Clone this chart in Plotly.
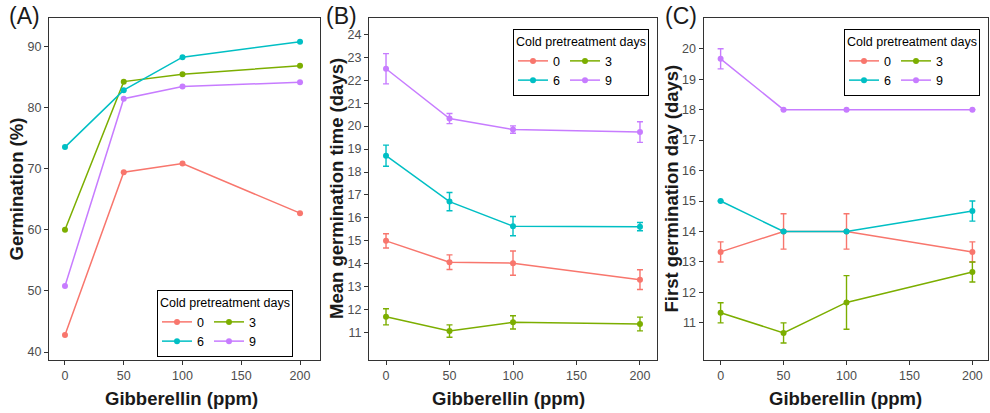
import plotly.graph_objects as go

# ---------------- data ----------------
gibberellin = [0, 50, 100, 200]
cold_days = ["0", "3", "6", "9"]
colors = ["#F8766D", "#7CAE00", "#00BFC4", "#C77CFF"]

# (A) Germination (%)
germ_0 = [42.8, 69.4, 70.8, 62.7]
germ_3 = [60.0, 84.2, 85.4, 86.8]
germ_6 = [73.5, 82.8, 88.2, 90.7]
germ_9 = [50.8, 81.4, 83.4, 84.1]

# (B) Mean germination time (days) with error
mgt_0 = [15.0, 14.07, 14.03, 13.31]
mgt_0_err = [0.31, 0.32, 0.53, 0.43]
mgt_3 = [11.69, 11.07, 11.45, 11.38]
mgt_3_err = [0.35, 0.27, 0.29, 0.30]
mgt_6 = [18.71, 16.71, 15.64, 15.62]
mgt_6_err = [0.46, 0.40, 0.42, 0.18]
mgt_9 = [22.5, 20.33, 19.85, 19.74]
mgt_9_err = [0.66, 0.22, 0.16, 0.45]

# (C) First germination day (days) with error
fgd_0 = [13.33, 14.0, 14.0, 13.33]
fgd_0_err = [0.33, 0.58, 0.58, 0.33]
fgd_3 = [11.33, 10.67, 11.67, 12.67]
fgd_3_err = [0.33, 0.33, 0.88, 0.33]
fgd_6 = [15.0, 14.0, 14.0, 14.67]
fgd_6_err = [0.0, 0.0, 0.0, 0.33]
fgd_9 = [19.67, 18.0, 18.0, 18.0]
fgd_9_err = [0.33, 0.0, 0.0, 0.0]

x_ticks = [0, 50, 100, 150, 200]
germ_ticks = [40, 50, 60, 70, 80, 90]
mgt_ticks = list(range(11, 25))
fgd_ticks = list(range(11, 21))

# ---------------- figure ----------------
W, H = 990, 413
FONT = "Liberation Sans, Arial, sans-serif"
AXC = "#333333"
TXC = "#4D4D4D"

fig = go.Figure()

panels = [
    ("x", "y", "legend", [germ_0, germ_3, germ_6, germ_9], None),
    ("x2", "y2", "legend2", [mgt_0, mgt_3, mgt_6, mgt_9],
     [mgt_0_err, mgt_3_err, mgt_6_err, mgt_9_err]),
    ("x3", "y3", "legend3", [fgd_0, fgd_3, fgd_6, fgd_9],
     [fgd_0_err, fgd_3_err, fgd_6_err, fgd_9_err]),
]
groups = ["a", "b", "a", "b"]

for pi, (xa, ya, lg, vals, errs) in enumerate(panels):
    for si in range(4):
        kw = {}
        if errs is not None:
            kw["error_y"] = dict(type="data", array=errs[si], visible=True,
                                 color=colors[si], thickness=1.4, width=3)
        fig.add_trace(go.Scatter(
            x=gibberellin, y=vals[si], mode="lines+markers",
            name=cold_days[si], xaxis=xa, yaxis=ya, legend=lg,
            legendgroup=f"{pi}{groups[si]}",
            line=dict(color=colors[si], width=1.5),
            marker=dict(color=colors[si], size=6),
            **kw))


def px_x(v):
    return v / W


def px_y(v):
    return 1 - v / H


ydom = [px_y(360), px_y(18)]
xdoms = [[px_x(49), px_x(320)], [px_x(369), px_x(657)], [px_x(703.5), px_x(987.5)]]
xranges = [[-13.6, 217], [-13.4, 213.4], [-13.6, 212]]
yranges = [[38.7, 94.6], [9.81, 24.71], [9.78, 21.01]]
yticks = [germ_ticks, mgt_ticks, fgd_ticks]

common = dict(showline=True, mirror=True, linecolor=AXC, linewidth=1,
              ticks="outside", ticklen=4, tickwidth=1, tickcolor=AXC,
              showgrid=False, zeroline=False,
              tickfont=dict(family=FONT, size=12.5, color=TXC))

layout = dict(width=W, height=H, margin=dict(l=0, r=0, t=0, b=0),
              paper_bgcolor="white", plot_bgcolor="white",
              font=dict(family=FONT, color="#000000"))

for i in range(3):
    sx = "" if i == 0 else str(i + 1)
    layout["xaxis" + sx] = dict(domain=xdoms[i], range=xranges[i], tickvals=x_ticks,
                                anchor="y" + sx, **common)
    layout["yaxis" + sx] = dict(domain=ydom, range=yranges[i], tickvals=yticks[i],
                                anchor="x" + sx, **common)

leg_pos = [(157, 290), (513, 29), (844, 29)]
for i, (lx, ly) in enumerate(leg_pos):
    key = "legend" if i == 0 else f"legend{i + 1}"
    layout[key] = dict(
        x=px_x(lx), y=px_y(ly), xanchor="left", yanchor="top",
        orientation="h", bgcolor="white", bordercolor="#000000", borderwidth=1,
        title=dict(text="Cold pretreatment days", side="top center",
                   font=dict(family=FONT, size=12.5, color="#000000")),
        font=dict(family=FONT, size=12.5, color="#000000"),
        tracegroupgap=2, itemwidth=30, itemclick=False, itemdoubleclick=False,
    )

fig.update_layout(**layout)

ann = []
# panel labels
for txt, cx in [("(A)", 24), ("(B)", 341), ("(C)", 681)]:
    ann.append(dict(text=txt, x=px_x(cx), y=px_y(16), xref="paper", yref="paper",
                    xanchor="center", yanchor="middle", showarrow=False,
                    font=dict(family=FONT, size=23, color="#1a1a1a")))
# x titles
for cx in [181, 508, 845]:
    ann.append(dict(text="<b>Gibberellin (ppm)</b>", x=px_x(cx), y=px_y(398),
                    xref="paper", yref="paper", xanchor="center", yanchor="middle",
                    showarrow=False, font=dict(family=FONT, size=18.5, color="#1a1a1a")))
# y titles
for txt, cx in [("Germination (%)", 15.5), ("Mean germination time (days)", 336),
                ("First germination day (days)", 670.5)]:
    ann.append(dict(text=f"<b>{txt}</b>", x=px_x(cx), y=px_y(189), xref="paper",
                    yref="paper", xanchor="center", yanchor="middle", textangle=-90,
                    showarrow=False, font=dict(family=FONT, size=18.5, color="#1a1a1a")))
fig.update_layout(annotations=ann)

fig.write_html("out.html",
               config={"displayModeBar": False},
               post_script="document.body.style.margin='0px';"
                           "document.body.style.overflow='hidden';")
